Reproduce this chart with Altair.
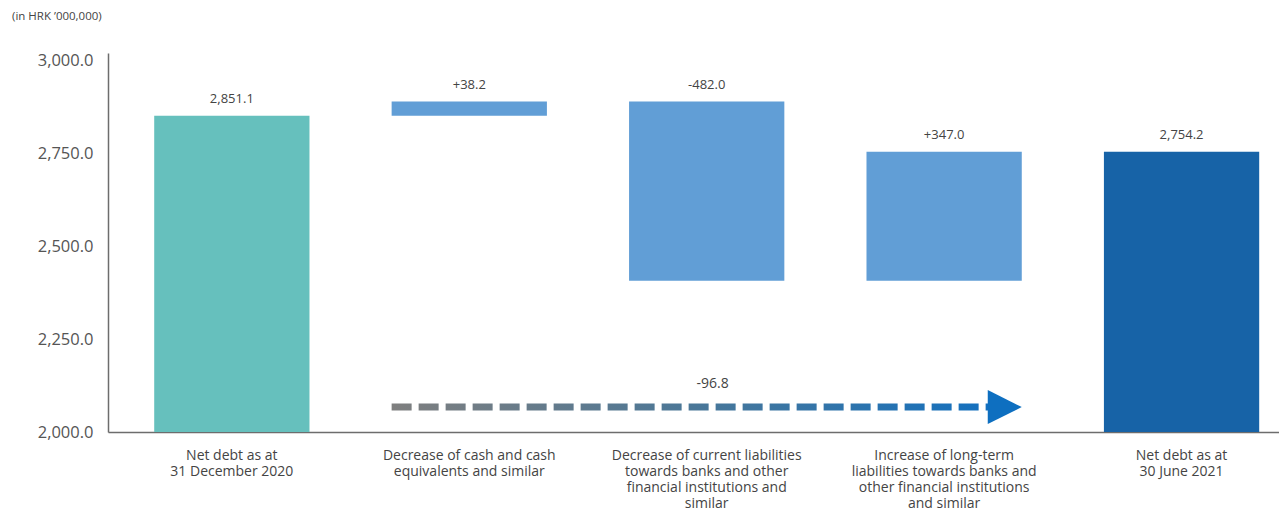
import altair as alt
import pandas as pd

# Net debt bridge, HRK millions
categories = [
    "Net debt as at\n31 December 2020",
    "Decrease of cash and cash\nequivalents and similar",
    "Decrease of current liabilities\ntowards banks and other\nfinancial institutions and\nsimilar",
    "Increase of long-term\nliabilities towards banks and\nother financial institutions\nand similar",
    "Net debt as at\n30 June 2021",
]
amounts = [2851.1, 38.2, -482.0, 347.0, 2754.2]
kinds = ["opening", "change", "change", "change", "closing"]
net_change = -96.8

y_floor = 2000.0
y_ticks = [2000, 2250, 2500, 2750, 3000]
arrow_level = 2067.0

FONT = "Open Sans"
TEXT = "#444444"

# Running totals for the waterfall
rows = []
running = 0.0
for cat, amt, kind in zip(categories, amounts, kinds):
    if kind == "change":
        start, end = running, running + amt
        label = f"{amt:+,.1f}"
    else:
        start, end = y_floor, amt
        label = f"{amt:,.1f}"
    running = end
    rows.append({"category": cat, "start": start, "end": end,
                 "top": max(start, end), "kind": kind, "label": label})
bars_df = pd.DataFrame(rows)

arrow_df = pd.DataFrame({
    "category": [categories[1]],
    "to": [categories[3]],
    "middle": [categories[2]],
    "level": [arrow_level],
    "level2": [arrow_level + 0.5],
    "label": [f"{net_change:,.1f}"],
})

x_scale = alt.Scale(domain=categories, paddingInner=0.346, paddingOuter=0.139, align=0.7)
y_scale = alt.Scale(domain=[y_floor, 3020], nice=False, zero=False)

x_enc = alt.X(
    "category:N", sort=None, scale=x_scale,
    axis=alt.Axis(
        title=None, labelAngle=0, ticks=False, labelPadding=16,
        labelExpr="split(datum.label, '\\n')",
        labelFont=FONT, labelFontSize=14, labelColor=TEXT, labelLineHeight=16,
        labelBaseline="top", labelLimit=400,
        domainColor="#6d6d6d", domainWidth=1.5,
    ),
)

bars = alt.Chart(bars_df).mark_bar().encode(
    x=x_enc,
    y=alt.Y(
        "start:Q", scale=y_scale,
        axis=alt.Axis(
            title=None, values=y_ticks, format=",.1f", ticks=False, grid=False,
            labelFont=FONT, labelFontSize=16.5, labelColor="#555555", labelPadding=15,
            domainColor="#6d6d6d", domainWidth=1.5,
        ),
    ),
    y2="end:Q",
    color=alt.Color(
        "kind:N",
        scale=alt.Scale(domain=["opening", "change", "closing"],
                        range=["#66c0bd", "#619ed6", "#1763a7"]),
        legend=None,
    ),
)

bar_labels = alt.Chart(bars_df).mark_text(
    font=FONT, fontSize=13, color=TEXT, baseline="bottom", dy=-10
).encode(
    x=alt.X("category:N", sort=None),
    y=alt.Y("top:Q"),
    text="label:N",
)

arrow_grad = alt.LinearGradient(
    gradient="linear",
    stops=[
        alt.GradientStop(offset=0, color="#7f7f7f"),
        alt.GradientStop(offset=0.5, color="#4a7798"),
        alt.GradientStop(offset=1, color="#1270c0"),
    ],
    x1=0, x2=1, y1=0, y2=0,
)

arrow_line = alt.Chart(arrow_df).mark_rule(
    color=arrow_grad, strokeWidth=7, strokeDash=[20, 7], x2Offset=-24
).encode(
    x=alt.X("category:N", sort=None, bandPosition=0),
    x2=alt.X2("to", bandPosition=1),
    y=alt.Y("level:Q"),
    y2="level2:Q",
)

arrow_head = alt.Chart(arrow_df).mark_point(
    shape="M-1,-1L1,0L-1,1Z", filled=True, size=1156, opacity=1,
    color="#0e6fc0", xOffset=-17,
).encode(
    x=alt.X("to:N", sort=None, bandPosition=1),
    y=alt.Y("level:Q"),
)

arrow_label = alt.Chart(arrow_df).mark_text(
    font=FONT, fontSize=14, color=TEXT, dy=-23, dx=6
).encode(
    x=alt.X("middle:N", sort=None),
    y=alt.Y("level:Q"),
    text="label:N",
)

chart = alt.layer(bars, bar_labels, arrow_line, arrow_head, arrow_label).properties(
    width=1171,
    height=379,
    padding={"left": 108, "top": 53, "right": 0, "bottom": 79},
    autosize=alt.AutoSizeParams(type="none"),
    title=alt.Title(
        "(in HRK ’000,000)", anchor="start", frame="group", dx=-96, offset=30,
        font=FONT, fontSize=11.5, fontWeight="normal", color=TEXT,
    ),
).configure_view(stroke=None)

chart.save("out.html", embed_options={"renderer": "svg", "actions": False})
